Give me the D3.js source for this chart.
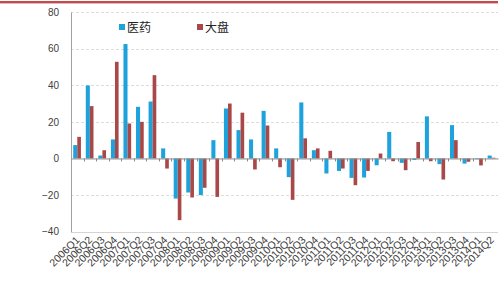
<!DOCTYPE html>
<html><head><meta charset="utf-8">
<script src="https://cdn.jsdelivr.net/npm/d3@7/dist/d3.min.js"></script>
<style>body{margin:0;background:#fff}svg{display:block}</style>
</head><body><svg id="c" width="500" height="291"></svg>
<script>
const categories = ["2006Q1","2006Q2","2006Q3","2006Q4","2007Q1","2007Q2","2007Q3","2007Q4",
"2008Q1","2008Q2","2008Q3","2008Q4","2009Q1","2009Q2","2009Q3","2009Q4",
"2010Q1","2010Q2","2010Q3","2010Q4","2011Q1","2011Q2","2011Q3","2011Q4",
"2012Q1","2012Q2","2012Q3","2012Q4","2013Q1","2013Q2","2013Q3","2013Q4","2014Q1","2014Q2"];
const pharma = [7.3,39.9,1.6,10.4,62.5,28.2,31.1,5.5,
-21.9,-18.6,-20,10,27.3,15.5,10.4,26,
5.5,-10.2,30.6,4.5,-8.2,-6.8,-10.6,-10.4,
-3.7,14.5,-2.4,-0.8,23,-3.1,18.2,-2.8,-0.4,1.6];
const market = [11.8,28.6,4.5,52.8,19.1,20,45.5,-5.5,
-33.7,-21.3,-16,-21,30,25,-6,18,
-4.8,-22.6,11,5.5,4.2,-5.5,-14.6,-6.8,
2.7,-1.5,-6.4,9,-1.5,-11.5,10,-1.8,-3.8,0.4];
const seriesNames = ["医药","大盘"];
const colors = ["#1da2dc","#a84848"];
const yTicks = [-40,-20,0,20,40,60,80];

const svg = d3.select("#c");
const L=71,R=498,T=12,B=231.7;
const x = d3.scaleBand().domain(categories).range([L,R]).padding(0);
const xi = d3.scaleBand().domain(seriesNames).range([0,x.bandwidth()]).paddingInner(0).paddingOuter(0.55);
const y = d3.scaleLinear().domain([-40,80]).range([B,T]);

// top red rule
svg.append("line").attr("x1",0).attr("x2",498).attr("y1",2.5).attr("y2",2.5)
  .attr("stroke","#e8b8b8").attr("stroke-width",3);
svg.append("line").attr("x1",0).attr("x2",498).attr("y1",2).attr("y2",2)
  .attr("stroke","#b8262b").attr("stroke-width",1.3);

// gridlines
svg.append("g").selectAll("line").data(yTicks.filter(v=>v!==0)).join("line")
  .attr("x1",L).attr("x2",R).attr("y1",d=>Math.round(y(d))+0.5).attr("y2",d=>Math.round(y(d))+0.5)
  .attr("stroke",d=>d===-40?"#d4d4d4":"#dcdcdc")
  .attr("stroke-dasharray",d=>d===-40?null:"3,2");

// y axis
const ya = svg.append("g").attr("transform",`translate(${L},0)`)
  .call(d3.axisLeft(y).tickValues(yTicks).tickSize(0).tickPadding(12));
ya.select(".domain").attr("stroke","#a0a0a0");
ya.selectAll("text").attr("font-family","Liberation Sans, Arial, sans-serif").attr("font-size","10px").attr("fill","#404040");

// bars
const data = categories.map((c,i)=>({c, vals:[pharma[i],market[i]]}));
const g = svg.append("g");
data.forEach(d=>{
  d.vals.forEach((v,j)=>{
    g.append("rect")
      .attr("x",x(d.c)+xi(seriesNames[j]))
      .attr("width",xi.bandwidth()-(j===1?0.4:0))
      .attr("y",Math.min(y(v),y(0)))
      .attr("height",Math.abs(y(v)-y(0)))
      .attr("fill",colors[j]);
  });
});

// zero axis with ticks
const xa = svg.append("g").attr("transform",`translate(0,${y(0)})`)
  .call(d3.axisBottom(x).tickSize(0).tickFormat(""));
xa.select(".domain").attr("stroke","#8a8a8a");
svg.append("g").selectAll("line").data(categories.slice(1)).join("line")
  .attr("x1",d=>Math.round(x(d))+0.5).attr("x2",d=>Math.round(x(d))+0.5)
  .attr("y1",y(0)).attr("y2",y(0)+3).attr("stroke","#8a8a8a");

// x labels
svg.append("g").selectAll("text").data(categories).join("text")
  .attr("transform",d=>`translate(${x(d)+x.bandwidth()/2+3},${B+9}) rotate(-45)`)
  .attr("text-anchor","end")
  .attr("font-family","Liberation Sans, Arial, sans-serif").attr("font-size","10.5px").attr("fill","#3a3a3a")
  .text(d=>d);

// legend
const lg = svg.append("g");
const lx=[119,197];
seriesNames.forEach((s,j)=>{
  lg.append("rect").attr("x",lx[j]).attr("y",24).attr("width",6).attr("height",6).attr("fill",colors[j]);
  lg.append("text").attr("x",lx[j]+8).attr("y",31.5)
    .attr("font-family","Noto Sans CJK SC, sans-serif").attr("font-size","12px").attr("fill","#222").text(s);
});
</script></body></html>
